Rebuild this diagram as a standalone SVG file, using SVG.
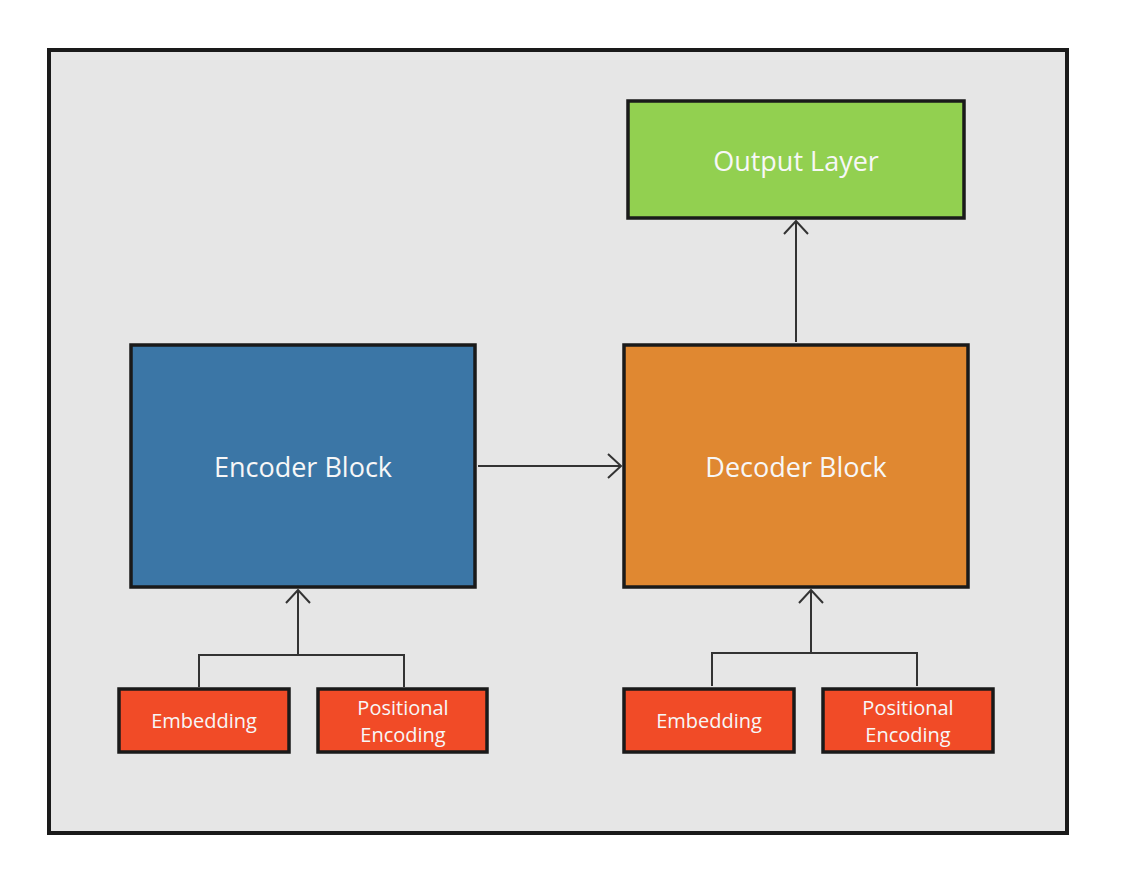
<svg xmlns="http://www.w3.org/2000/svg" width="1123" height="889" viewBox="0 0 1123 889">
<defs>
<style>
.box{stroke:#1a1a1a;stroke-width:3.5}
.lbl{font-family:"Open Sans","Noto Sans",sans-serif;fill:#f7f7f7;text-anchor:middle;dominant-baseline:central}
.big{font-size:27px}
.sm{font-size:20px}
.con{fill:none;stroke:#333;stroke-width:2}
</style>
<marker id="arr" markerWidth="16" markerHeight="26" refX="14" refY="13" orient="auto" markerUnits="userSpaceOnUse">
<path d="M1,1 L14,13 L1,25" fill="none" stroke="#333" stroke-width="2"/>
</marker>
</defs>
<rect width="1123" height="889" fill="#ffffff"/>
<rect x="49" y="50" width="1018" height="783" fill="#e6e6e6" stroke="#1a1a1a" stroke-width="4"/>
<g id="output"><rect class="box" x="628" y="101" width="336" height="117" fill="#92d050"/><text class="lbl big" x="796" y="160">Output Layer</text></g>
<g id="encoder"><rect class="box" x="131" y="345" width="344" height="242" fill="#3b76a6"/><text class="lbl big" x="303" y="466">Encoder Block</text></g>
<g id="decoder"><rect class="box" x="624" y="345" width="344" height="242" fill="#e08831"/><text class="lbl big" x="796" y="466">Decoder Block</text></g>
<g id="emb1"><rect class="box" x="119" y="689" width="170" height="63" fill="#f14b27"/><text class="lbl sm" x="204" y="720">Embedding</text></g>
<g id="pos1"><rect class="box" x="318" y="689" width="169" height="63" fill="#f14b27"/><text class="lbl sm" x="403" y="707">Positional</text><text class="lbl sm" x="403" y="734">Encoding</text></g>
<g id="emb2"><rect class="box" x="624" y="689" width="170" height="63" fill="#f14b27"/><text class="lbl sm" x="709" y="720">Embedding</text></g>
<g id="pos2"><rect class="box" x="823" y="689" width="170" height="63" fill="#f14b27"/><text class="lbl sm" x="908" y="707">Positional</text><text class="lbl sm" x="908" y="734">Encoding</text></g>
<g id="connectors">
<line class="con" x1="478" y1="466" x2="621" y2="466" marker-end="url(#arr)"/>
<line class="con" x1="796" y1="342" x2="796" y2="221" marker-end="url(#arr)"/>
<line class="con" x1="298" y1="655" x2="298" y2="590" marker-end="url(#arr)"/>
<polyline class="con" points="199,687 199,655 404,655 404,687"/>
<line class="con" x1="811" y1="653" x2="811" y2="590" marker-end="url(#arr)"/>
<polyline class="con" points="712,686 712,653 917,653 917,686"/>
</g>
</svg>
